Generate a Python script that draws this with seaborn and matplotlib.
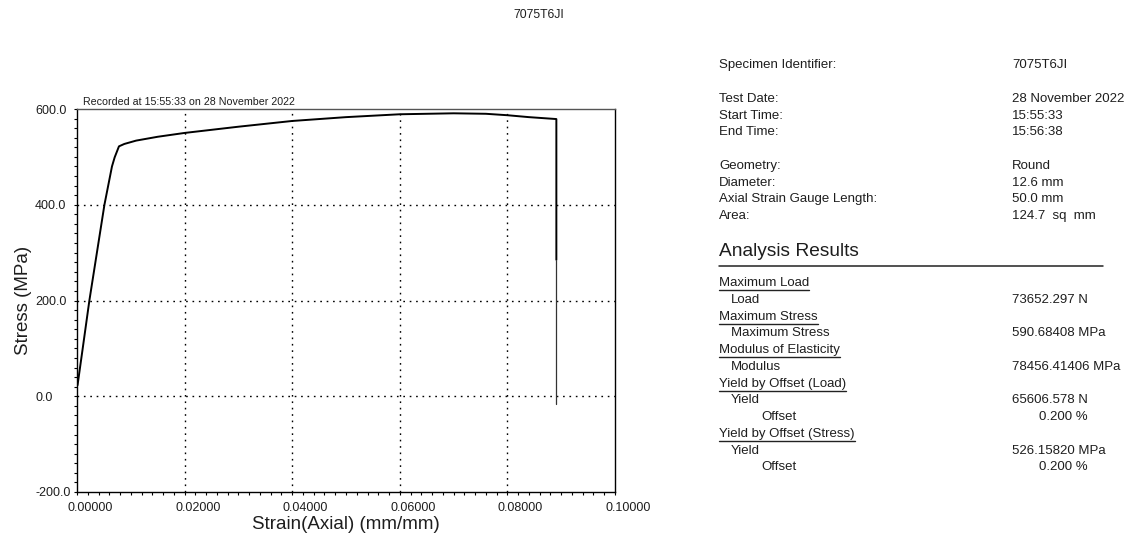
import matplotlib
matplotlib.use("Agg")
import matplotlib.pyplot as plt
from matplotlib.lines import Line2D
from matplotlib.transforms import ScaledTranslation
from matplotlib.ticker import MultipleLocator, FormatStrFormatter
import seaborn as sns
import pandas as pd

# Tensile test record, specimen 7075T6JI
strain = [0.0001, 0.0010, 0.0023, 0.0051, 0.0065, 0.0070, 0.0078, 0.0088,
          0.0110, 0.0150, 0.0200, 0.0300, 0.0400, 0.0500, 0.0600, 0.0700,
          0.0760, 0.0800, 0.0840, 0.0891, 0.0891]
stress = [23, 95, 200, 400, 480, 499, 522, 527,
          534, 542, 550, 563, 575, 583, 589, 591,
          590, 587, 583, 579, 285]
fracture_strain = [0.0891, 0.0891]
fracture_stress = [285, -17]

x_ticks = [0.0, 0.02, 0.04, 0.06, 0.08, 0.10]
y_ticks = [-200.0, 0.0, 200.0, 400.0, 600.0]

title = "7075T6JI"
recorded = "Recorded at 15:55:33 on 28 November 2022"

info_rows = [
    ("Specimen Identifier:", "7075T6JI", 65),
    ("Test Date:", "28 November 2022", 99),
    ("Start Time:", "15:55:33", 116),
    ("End Time:", "15:56:38", 132),
    ("Geometry:", "Round", 166),
    ("Diameter:", "12.6 mm", 183),
    ("Axial Strain Gauge Length:", "50.0 mm", 199),
    ("Area:", "124.7  sq  mm", 216),
]
# (label, value, indent level, underlined)
results = [
    ("Maximum Load", "", 0, True),
    ("Load", "73652.297 N", 1, False),
    ("Maximum Stress", "", 0, True),
    ("Maximum Stress", "590.68408 MPa", 1, False),
    ("Modulus of Elasticity", "", 0, True),
    ("Modulus", "78456.41406 MPa", 1, False),
    ("Yield by Offset (Load)", "", 0, True),
    ("Yield", "65606.578 N", 1, False),
    ("Offset", "0.200 %", 2, False),
    ("Yield by Offset (Stress)", "", 0, True),
    ("Yield", "526.15820 MPa", 1, False),
    ("Offset", "0.200 %", 2, False),
]

sns.set_theme(style="white")
plt.rcParams["font.family"] = ["Liberation Sans", "DejaVu Sans"]
ink = "#1e1e1e"

W, H = 1132, 541
fig = plt.figure(figsize=(W / 100, H / 100), dpi=100)
fig.patch.set_facecolor("white")


def fx(px):
    return px / W


def fy(py):
    return 1 - py / H


ax = fig.add_axes([fx(77), fy(492), fx(615) - fx(77), fy(109) - fy(492)])

curve = pd.DataFrame({"strain": strain, "stress": stress})
sns.lineplot(data=curve, x="strain", y="stress", sort=False, estimator=None,
             color="black", lw=1.4, ax=ax)
tail = pd.DataFrame({"strain": fracture_strain, "stress": fracture_stress})
sns.lineplot(data=tail, x="strain", y="stress", sort=False, estimator=None,
             color="#333333", lw=0.9, ax=ax)

ax.set_xlim(0, 0.10)
ax.set_ylim(-200, 600)
ax.set_xticks(x_ticks)
ax.set_yticks(y_ticks)
ax.xaxis.set_major_formatter(FormatStrFormatter("%.5f"))
ax.yaxis.set_major_formatter(FormatStrFormatter("%.1f"))
ax.xaxis.set_minor_locator(MultipleLocator(0.002))
ax.yaxis.set_minor_locator(MultipleLocator(20))

# dotted grid at interior major positions only
for gx in x_ticks[1:-1]:
    ax.axvline(gx, color="black", lw=1.0, ls=(0, (1.2, 3.4)), zorder=0.5)
for gy in y_ticks[1:-1]:
    ax.axhline(gy, color="black", lw=1.0, ls=(0, (1.2, 3.4)), zorder=0.5)

for s in ax.spines.values():
    s.set_color("black")
    s.set_linewidth(1.0)
ax.spines["top"].set_color("#555555")

ax.tick_params(axis="both", which="both", direction="out", color="black",
               width=0.8, length=2.2, labelcolor=ink, labelsize=9,
               left=True, bottom=True)
ax.tick_params(axis="x", pad=5)
ax.tick_params(axis="y", pad=28)
for lbl in ax.get_yticklabels():
    lbl.set_horizontalalignment("left")
# strain labels start a little left of their tick
shift = ScaledTranslation(-9.5 / 100, 0, fig.dpi_scale_trans)
for lbl in ax.get_xticklabels():
    lbl.set_horizontalalignment("left")
    lbl.set_transform(lbl.get_transform() + shift)

ax.set_xlabel("Strain(Axial) (mm/mm)", fontsize=13.5, color=ink)
ax.set_ylabel("Stress (MPa)", fontsize=13.5, color=ink)
ax.xaxis.set_label_coords(0.5, -0.062)
ax.yaxis.label.set_verticalalignment("center")
ax.yaxis.set_label_coords(-0.1, 0.5)

ax.text(0.0, 1.004, "  " + recorded, transform=ax.transAxes, fontsize=7.7,
        color=ink, ha="left", va="bottom")

fig.text(fx(539), fy(15), title, fontsize=8.8, color=ink,
         ha="center", va="center")

# specimen information block
left_x, val_x = 719, 1012
fs = 9.5
for label, value, py in info_rows:
    fig.text(fx(left_x), fy(py), label, fontsize=fs, color=ink,
             ha="left", va="center")
    fig.text(fx(val_x), fy(py), value, fontsize=fs, color=ink,
             ha="left", va="center")

fig.text(fx(left_x), fy(252), "Analysis Results", fontsize=13.8, color=ink,
         ha="left", va="center")
fig.add_artist(Line2D([fx(719), fx(1103)], [fy(266), fy(266)],
                      color="#222222", lw=1.1))

indent = {0: 719, 1: 731, 2: 761}
underlined = []
py = 283
for label, value, level, ul in results:
    t = fig.text(fx(indent[level]), fy(py), label, fontsize=fs, color=ink,
                 ha="left", va="center")
    if ul:
        underlined.append((t, py))
    if value:
        if level == 2:
            fig.text(fx(1088), fy(py), value, fontsize=fs, color=ink,
                     ha="right", va="center")
        else:
            fig.text(fx(val_x), fy(py), value, fontsize=fs, color=ink,
                     ha="left", va="center")
    py += 16.75

fig.canvas.draw()
renderer = fig.canvas.get_renderer()
for t, ypx in underlined:
    bb = t.get_window_extent(renderer=renderer)
    fig.add_artist(Line2D([bb.x0 / W, bb.x1 / W], [fy(ypx + 7), fy(ypx + 7)],
                          color="#222222", lw=1.0))

fig.savefig("out.png", dpi=100, facecolor="white")
